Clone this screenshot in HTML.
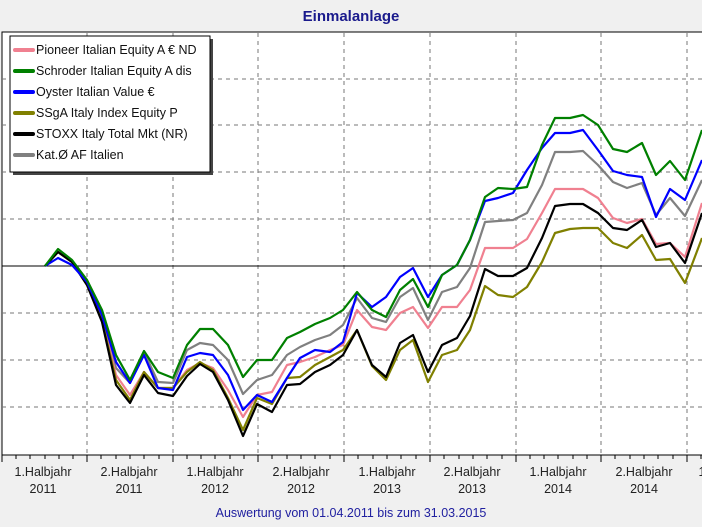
<!DOCTYPE html>
<html><head><meta charset="utf-8"><style>
html,body{margin:0;padding:0;background:#f0f0f0;}
svg{display:block;font-family:"Liberation Sans",sans-serif;}
</style></head><body>
<svg width="702" height="527" viewBox="0 0 702 527">
<rect width="702" height="527" fill="#f0f0f0"/>
<text x="351" y="21" text-anchor="middle" font-size="15" font-weight="bold" fill="#1a1a8c">Einmalanlage</text>
<rect x="2" y="32" width="702" height="423" fill="#fff" stroke="#000" stroke-width="1"/>
<g stroke="#777" stroke-dasharray="4,4" stroke-width="1">
<line x1="87" y1="33" x2="87" y2="455"/><line x1="173" y1="33" x2="173" y2="455"/>
<line x1="258" y1="33" x2="258" y2="455"/><line x1="344" y1="33" x2="344" y2="455"/>
<line x1="430" y1="33" x2="430" y2="455"/><line x1="516" y1="33" x2="516" y2="455"/>
<line x1="601" y1="33" x2="601" y2="455"/><line x1="687" y1="33" x2="687" y2="455"/>
<line x1="2" y1="79" x2="702" y2="79"/><line x1="2" y1="125" x2="702" y2="125"/>
<line x1="2" y1="172" x2="702" y2="172"/><line x1="2" y1="219" x2="702" y2="219"/>
<line x1="2" y1="313" x2="702" y2="313"/><line x1="2" y1="360" x2="702" y2="360"/>
<line x1="2" y1="407" x2="702" y2="407"/>
</g>
<line x1="2" y1="266" x2="702" y2="266" stroke="#000" stroke-width="1"/>
<g fill="none" stroke-width="2.2" stroke-linejoin="round">
<polyline stroke="#808080" points="45,266 58,252 72,262 87,280 102,315 116,368 130,383 144,352 158,382 173,383 187,350 200,343 213,345 228,360 243,394 257,380 272,375 287,355 300,347 315,340 330,335 343,325 357,298 372,318 386,322 400,297 413,288 428,320 442,292 457,287 470,268 485,222 498,221 513,220 527,213 542,185 555,152 570,152 583,151 598,165 613,182 627,188 642,183 656,215 670,198 685,216 702,180"/>
<polyline stroke="#f08090" points="45,266 58,252 72,262 87,282 102,318 116,375 130,395 144,372 158,388 173,388 187,370 200,363 213,368 228,390 243,417 257,395 272,392 287,365 300,362 315,357 330,350 343,345 357,310 372,327 386,330 400,313 413,307 428,328 442,307 457,307 470,290 485,248 498,248 513,248 527,239 542,213 555,189 570,189 583,189 598,198 613,218 627,223 642,219 656,244 670,243 685,257 702,203"/>
<polyline stroke="#808000" points="45,266 58,252 72,262 87,285 102,320 116,380 130,400 144,372 158,388 173,388 187,372 200,362 213,370 228,398 243,430 257,398 272,404 287,378 300,377 315,365 330,357 343,350 357,330 372,366 386,380 400,350 413,340 428,382 442,355 457,350 470,330 485,286 498,295 513,297 527,287 542,262 555,233 570,229 583,228 598,228 613,243 627,248 642,235 656,260 670,259 685,283 702,238"/>
<polyline stroke="#000" points="45,266 58,252 72,262 87,285 102,322 116,385 130,403 144,375 158,393 173,396 187,376 200,364 213,372 228,400 243,436 257,404 272,412 287,385 300,384 315,372 330,365 343,355 357,330 372,365 386,377 400,343 413,335 428,372 442,345 457,338 470,316 485,269 498,276 513,276 527,268 542,238 555,206 570,204 583,204 598,213 613,228 627,230 642,220 656,247 670,243 685,263 702,213"/>
<polyline stroke="#0000ff" points="45,266 58,258 72,265 87,282 102,315 116,362 130,383 144,355 158,388 173,390 187,357 200,353 213,355 228,375 243,410 257,395 272,402 287,378 300,358 315,350 330,352 343,342 357,293 372,307 386,297 400,277 413,268 428,297 442,275 457,265 470,240 485,201 498,198 513,193 527,170 542,148 555,133 570,133 583,130 598,150 613,171 627,175 642,177 656,217 670,189 685,200 702,160"/>
<polyline stroke="#008000" points="45,266 58,249 72,260 87,280 102,310 116,355 130,380 144,351 158,372 173,378 187,345 200,329 213,329 228,345 243,377 257,360 272,360 287,338 300,332 315,324 330,318 343,310 357,292 372,310 386,317 400,290 413,279 428,307 442,275 457,265 470,240 485,197 498,188 513,189 527,187 542,145 555,118 570,118 583,115 598,125 613,149 627,152 642,143 656,175 670,161 685,180 702,130"/>
</g>
<rect x="13" y="39" width="200" height="136" fill="#444"/>
<rect x="10" y="36" width="200" height="136" fill="#fff" stroke="#000" stroke-width="1"/>
<g stroke-width="4" stroke-linecap="round">
<line x1="15" y1="50" x2="33" y2="50" stroke="#f08090"/>
<line x1="15" y1="71" x2="33" y2="71" stroke="#008000"/>
<line x1="15" y1="92" x2="33" y2="92" stroke="#0000ff"/>
<line x1="15" y1="113" x2="33" y2="113" stroke="#808000"/>
<line x1="15" y1="134" x2="33" y2="134" stroke="#000"/>
<line x1="15" y1="155" x2="33" y2="155" stroke="#808080"/>
</g>
<g font-size="12.5" fill="#111">
<text x="36" y="54">Pioneer Italian Equity A € ND</text>
<text x="36" y="75">Schroder Italian Equity A dis</text>
<text x="36" y="96">Oyster Italian Value €</text>
<text x="36" y="117">SSgA Italy Index Equity P</text>
<text x="36" y="138">STOXX Italy Total Mkt (NR)</text>
<text x="36" y="159">Kat.Ø AF Italien</text>
</g>
<g stroke="#000" stroke-width="1">
<line x1="2" y1="455" x2="2" y2="462"/><line x1="87" y1="455" x2="87" y2="462"/><line x1="173" y1="455" x2="173" y2="462"/><line x1="258" y1="455" x2="258" y2="462"/><line x1="344" y1="455" x2="344" y2="462"/><line x1="430" y1="455" x2="430" y2="462"/><line x1="516" y1="455" x2="516" y2="462"/><line x1="601" y1="455" x2="601" y2="462"/><line x1="687" y1="455" x2="687" y2="462"/>
</g>
<g stroke="#000" stroke-width="1">
<line x1="16" y1="455" x2="16" y2="459"/><line x1="30" y1="455" x2="30" y2="459"/><line x1="45" y1="455" x2="45" y2="459"/><line x1="59" y1="455" x2="59" y2="459"/><line x1="73" y1="455" x2="73" y2="459"/>
<line x1="101" y1="455" x2="101" y2="459"/><line x1="116" y1="455" x2="116" y2="459"/><line x1="130" y1="455" x2="130" y2="459"/><line x1="144" y1="455" x2="144" y2="459"/><line x1="159" y1="455" x2="159" y2="459"/>
<line x1="187" y1="455" x2="187" y2="459"/><line x1="201" y1="455" x2="201" y2="459"/><line x1="215" y1="455" x2="215" y2="459"/><line x1="230" y1="455" x2="230" y2="459"/><line x1="244" y1="455" x2="244" y2="459"/>
<line x1="272" y1="455" x2="272" y2="459"/><line x1="287" y1="455" x2="287" y2="459"/><line x1="301" y1="455" x2="301" y2="459"/><line x1="315" y1="455" x2="315" y2="459"/><line x1="330" y1="455" x2="330" y2="459"/>
<line x1="358" y1="455" x2="358" y2="459"/><line x1="373" y1="455" x2="373" y2="459"/><line x1="387" y1="455" x2="387" y2="459"/><line x1="401" y1="455" x2="401" y2="459"/><line x1="416" y1="455" x2="416" y2="459"/>
<line x1="444" y1="455" x2="444" y2="459"/><line x1="459" y1="455" x2="459" y2="459"/><line x1="473" y1="455" x2="473" y2="459"/><line x1="487" y1="455" x2="487" y2="459"/><line x1="502" y1="455" x2="502" y2="459"/>
<line x1="530" y1="455" x2="530" y2="459"/><line x1="544" y1="455" x2="544" y2="459"/><line x1="558" y1="455" x2="558" y2="459"/><line x1="573" y1="455" x2="573" y2="459"/><line x1="587" y1="455" x2="587" y2="459"/>
<line x1="615" y1="455" x2="615" y2="459"/><line x1="630" y1="455" x2="630" y2="459"/><line x1="644" y1="455" x2="644" y2="459"/><line x1="658" y1="455" x2="658" y2="459"/><line x1="673" y1="455" x2="673" y2="459"/>
<line x1="701" y1="455" x2="701" y2="459"/>
</g>
<g font-size="12.5" fill="#222" text-anchor="middle">
<text x="43" y="476">1.Halbjahr</text><text x="43" y="493">2011</text>
<text x="129" y="476">2.Halbjahr</text><text x="129" y="493">2011</text>
<text x="215" y="476">1.Halbjahr</text><text x="215" y="493">2012</text>
<text x="301" y="476">2.Halbjahr</text><text x="301" y="493">2012</text>
<text x="387" y="476">1.Halbjahr</text><text x="387" y="493">2013</text>
<text x="472" y="476">2.Halbjahr</text><text x="472" y="493">2013</text>
<text x="558" y="476">1.Halbjahr</text><text x="558" y="493">2014</text>
<text x="644" y="476">2.Halbjahr</text><text x="644" y="493">2014</text>
<text x="727" y="476">1.Halbjahr</text><text x="727" y="493">2015</text>
</g>
<text x="351" y="517" text-anchor="middle" font-size="12.5" fill="#2020a0">Auswertung vom 01.04.2011 bis zum 31.03.2015</text>
</svg>
</body></html>
